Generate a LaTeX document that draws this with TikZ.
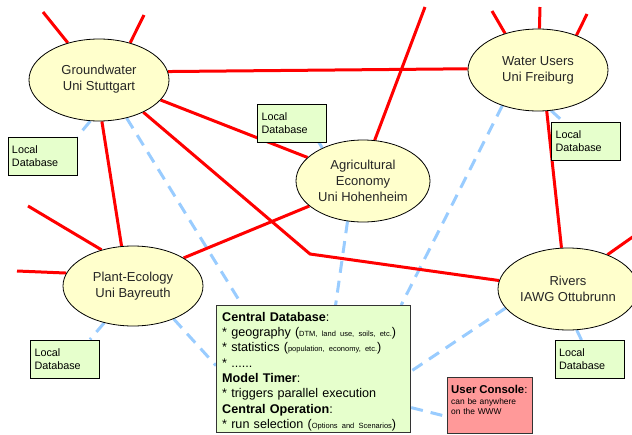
\documentclass[tikz,border=0pt]{standalone}
\usepackage{fontspec}
\setmainfont{Liberation Sans}
\usetikzlibrary{shapes.geometric,calc}
\definecolor{redline}{RGB}{255,0,0}
\definecolor{blueline}{RGB}{153,204,255}
\definecolor{ellfill}{RGB}{255,255,204}
\definecolor{dbfill}{RGB}{230,255,204}
\definecolor{ucfill}{RGB}{255,153,153}
\pgfdeclarelayer{bg}
\pgfsetlayers{bg,main}
\newcommand{\smalltxt}[1]{{\fontsize{7.5}{9}\selectfont #1}}
\begin{document}
\begin{tikzpicture}[x=1pt,y=-1pt,
  site/.style={ellipse, draw=black, line width=0.8pt, fill=ellfill, minimum width=140pt, minimum height=82pt, inner sep=0pt, align=center, text=black!85, font=\fontsize{13}{16}\selectfont},
  localdb/.style={rectangle, draw=black, line width=1pt, fill=dbfill, minimum width=69pt, minimum height=38pt, inner xsep=4pt, inner ysep=0pt, text width=61pt, align=left, font=\fontsize{10.8}{13}\selectfont},
  bigbox/.style={rectangle, draw=black!80, line width=1.2pt, anchor=north west, inner sep=0pt},
  boxtext/.style={anchor=north west, inner sep=0pt, align=left},
  link/.style={draw=redline, line width=3pt},
  dlink/.style={draw=blueline, line width=3pt, dash pattern=on 12pt off 8pt},
]
\useasboundingbox (0,0) rectangle (632,434);

% sites
\node[site] (gw) at (99,80) {Groundwater\\Uni Stuttgart\rule[-5pt]{0pt}{0pt}};
\node[site] (wu) at (538,70) {Water Users\\Uni Freiburg};
\node[site, minimum width=134pt] (ag) at (363,181) {Agricultural\\Economy\\Uni Hohenheim};
\node[site, minimum height=80pt] (pe) at (133,286) {Plant-Ecology\\Uni Bayreuth};
\node[site] (rv) at (568,289) {Rivers\\IAWG Ottubrunn};

% local databases
\node[localdb] (db1) at (42.5,156) {Local\\Database};
\node[localdb] (db2) at (292,123) {Local\\Database};
\node[localdb] (db3) at (586,141) {Local\\Database};
\node[localdb] (db4) at (65,359) {Local\\Database};
\node[localdb] (db5) at (589.5,359.5) {Local\\Database};

% central box
\node[bigbox, fill=dbfill, minimum width=194pt, minimum height=127pt] (cb) at (216,305) {};
\node[boxtext, text width=186pt, font=\fontsize{12.6}{15.3}\selectfont] (cbtext) at (222,312)
{\textbf{Central Database}:\\
{*} geography (\smalltxt{DTM, land use, soils, etc.})\\
{*} statistics (\smalltxt{population, economy, etc.})\\
{*} ......\\
\textbf{Model Timer}:\\
{*} triggers parallel execution\\
\textbf{Central Operation}:\\
{*} run selection (\smalltxt{Options and Scenarios})};

% user console
\node[bigbox, fill=ucfill, minimum width=85pt, minimum height=56pt] (uc) at (447,377) {};
\node[boxtext, text width=80pt, font=\fontsize{8.4}{10}\selectfont] (uctext) at (451,385)
{{\fontsize{11.4}{13}\selectfont\textbf{User Console}:}\\[1pt]can be anywhere\\on the WWW};

% free ends
\coordinate (s1) at (43,12);
\coordinate (s2) at (144,15);
\coordinate (s3) at (28,206);
\coordinate (s4) at (17,271);
\coordinate (s5) at (425,7);
\coordinate (s6) at (492,11);
\coordinate (s7) at (540,7);
\coordinate (s8) at (587,14);
\coordinate (s9) at (634,236);
\coordinate (k) at (310,254);

\begin{pgfonlayer}{bg}
% dashed connections
\draw[dlink] (gw.-102) -- (db1.north east);
\draw[dlink] (gw.-54) -- ($(cb.north west)+(26,0)$);
\draw[dlink] (pe.-128) -- ($(db4.north east)+(-10,0)$);
\draw[dlink] (pe.-39) -- ($(cb.west)+(0,-3.5)$);
\draw[dlink] (ag.141) -- ($(db2.south east)+(-8,0)$);
\draw[dlink] (ag.-111) -- ($(cb.north)+(22,0)$);
\draw[dlink] (wu.-72) -- ($(db3.north west)+(12,0)$);
\draw[dlink] (wu.-135) -- ($(cb.north east)+(-10,0)$);
\draw[dlink] (rv.-78) -- ($(db5.north west)+(27,0)$);
\draw[dlink] (rv.-163.5) -- ($(cb.east)+(0,2)$);
\draw[dlink] ($(cb.east)+(0,38.5)$) -- ($(uc.west)+(0,11)$);
% red connections
\draw[link] (gw.130) -- (s1);
\draw[link] (gw.50) -- (s2);
\draw[link] (pe.131) -- (s3);
\draw[link] (pe.169) -- (s4);
\draw[link] (ag.74) -- (s5);
\draw[link] (wu.132) -- (s6);
\draw[link] (wu.88) -- (s7);
\draw[link] (wu.42) -- (s8);
\draw[link] (rv.41) -- (s9);
\draw[link] (gw.7) -- (wu.179);
\draw[link] (gw.-18) -- (ag.157.5);
\draw[link] (gw.-36) -- (k) -- (rv.173.5);
\draw[link] (gw.-86) -- (pe.106);
\draw[link] (pe.29) -- (ag.205);
\draw[link] (wu.-78) -- (rv.99.7);
\end{pgfonlayer}
\end{tikzpicture}
\end{document}
